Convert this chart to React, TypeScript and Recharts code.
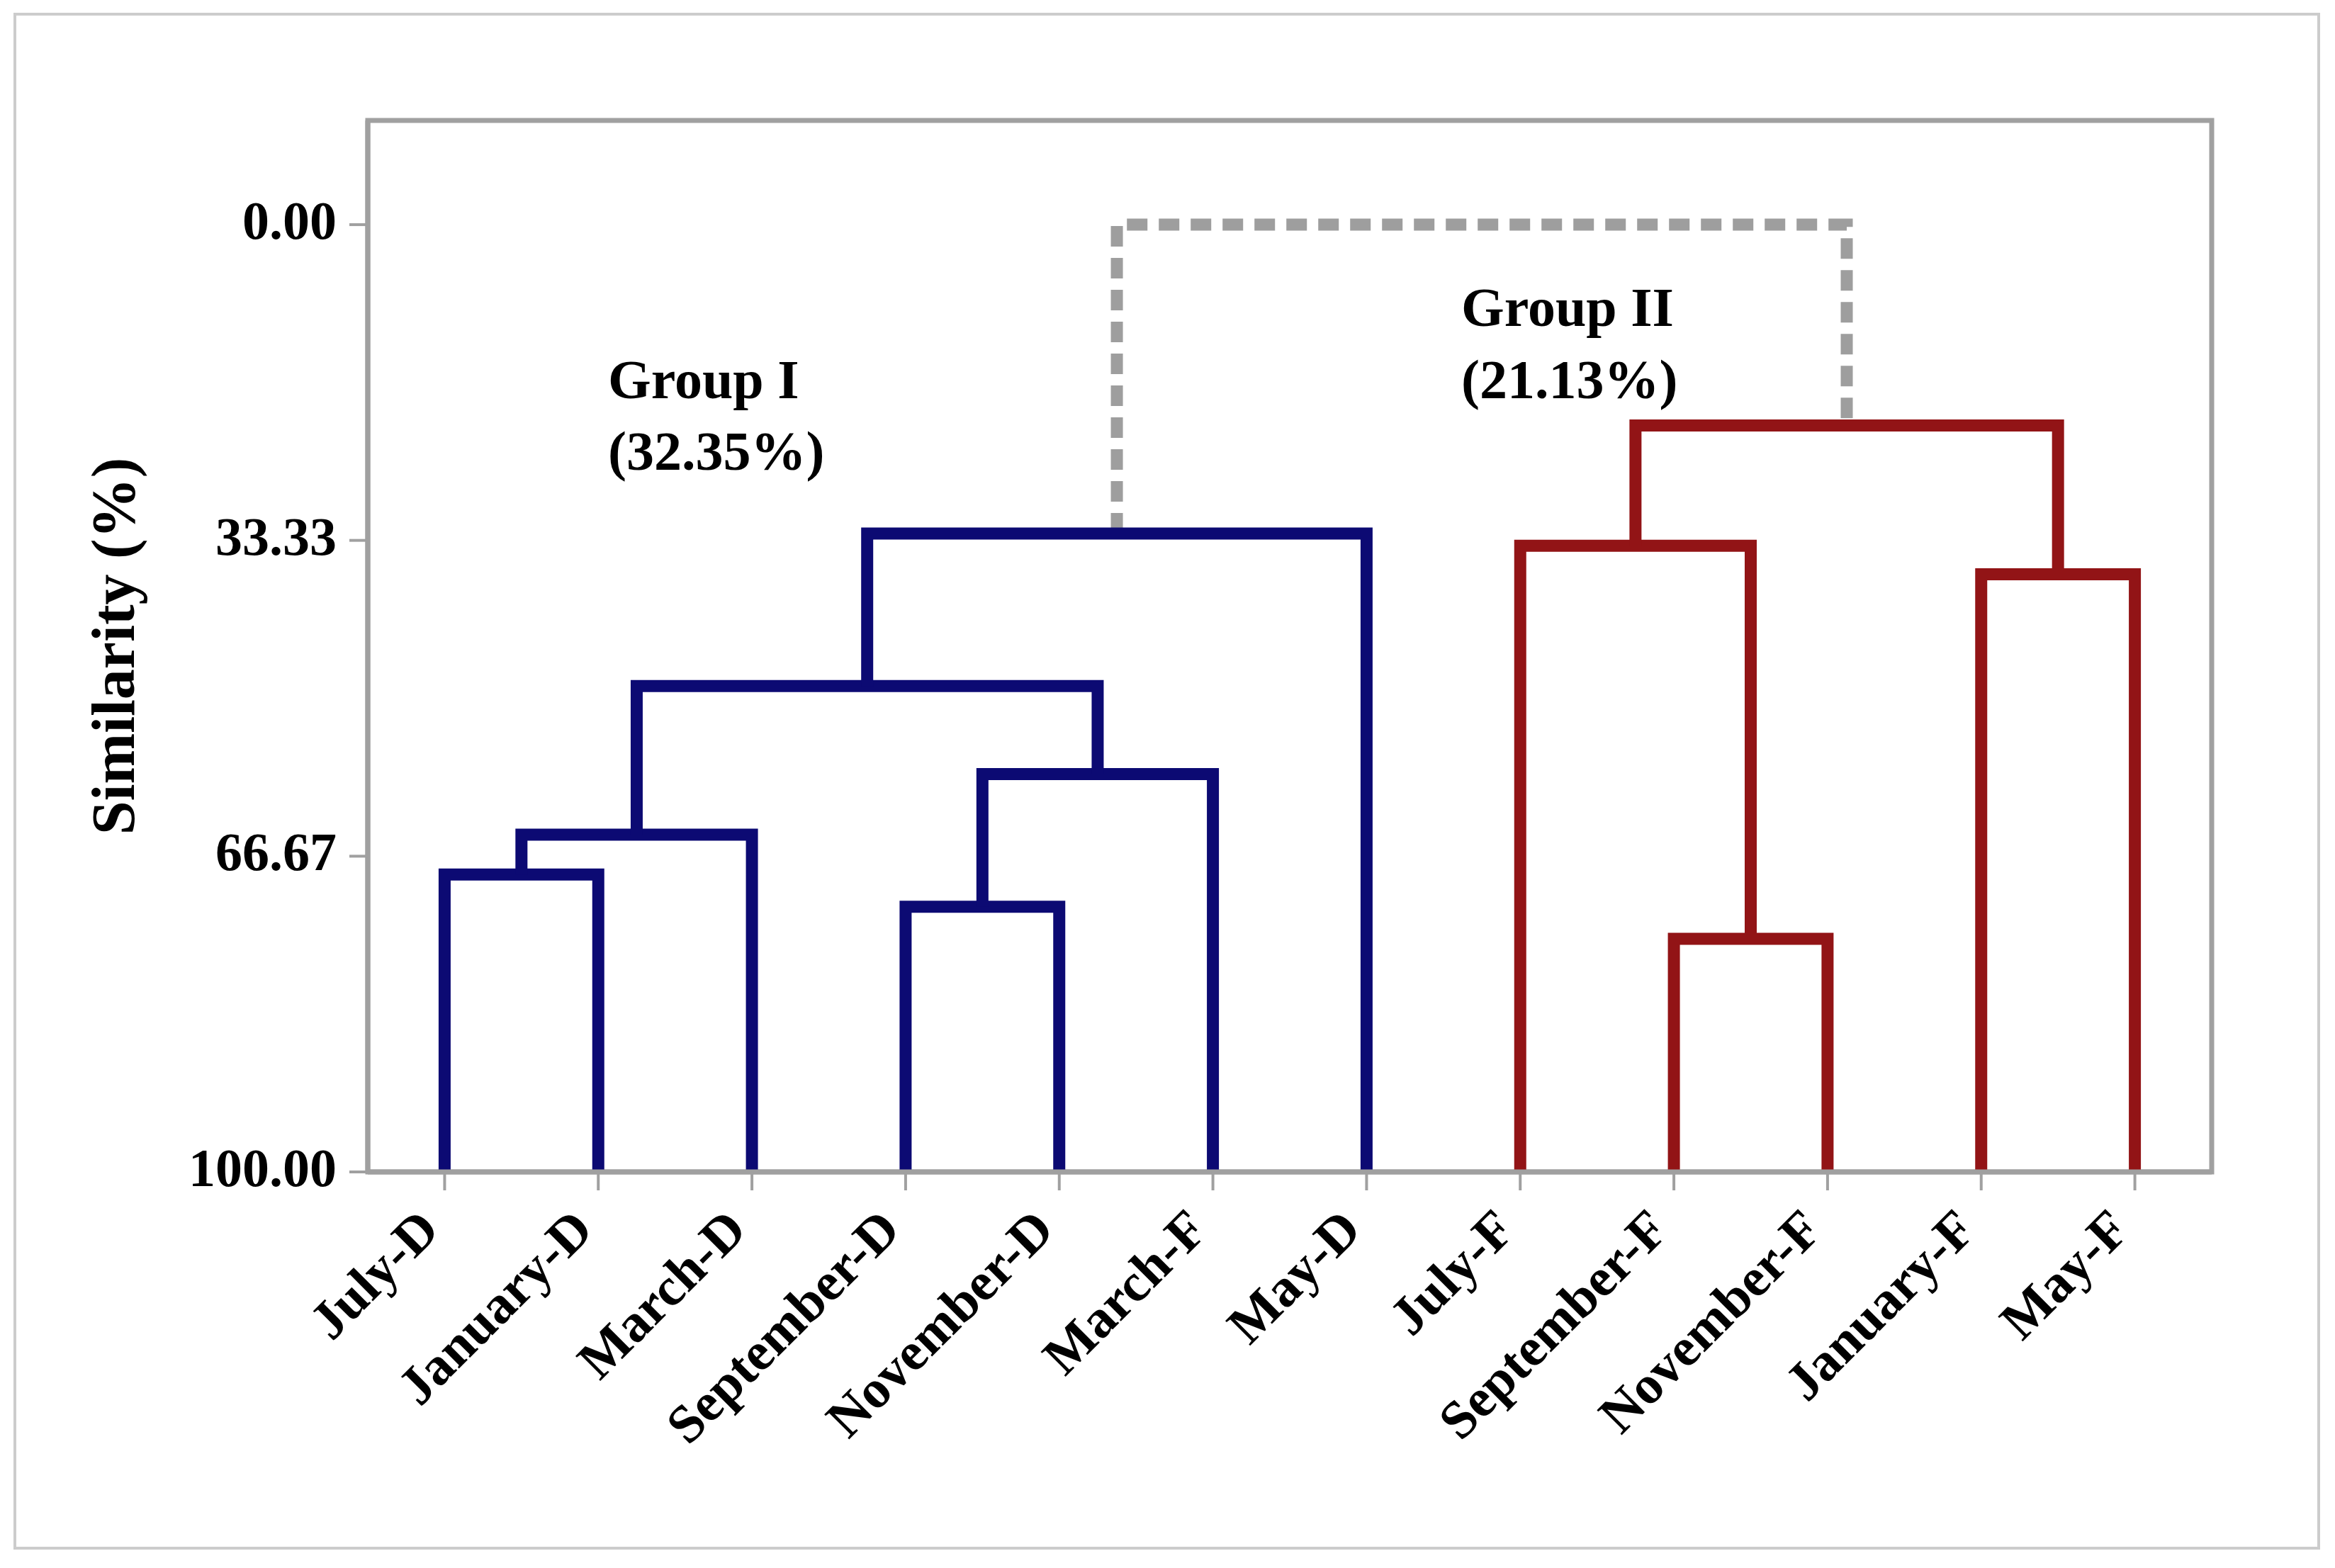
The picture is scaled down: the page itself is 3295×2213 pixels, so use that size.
import React from "react";
import { LineChart, Line, XAxis, YAxis, ReferenceArea } from "recharts";

// leaf order along the x axis
const leaves = [
  "July-D",
  "January-D",
  "March-D",
  "September-D",
  "November-D",
  "March-F",
  "May-D",
  "July-F",
  "September-F",
  "November-F",
  "January-F",
  "May-F",
];

// merges: [child a, child b, similarity %]; leaves are ids 0-11, merges get ids 12+ in order
const groupIMerges: [number, number, number][] = [
  [0, 1, 68.6], // 12
  [12, 2, 64.4], // 13
  [3, 4, 72.0], // 14
  [14, 5, 58.0], // 15
  [13, 15, 48.7], // 16
  [16, 6, 32.6], // 17
];

const groupIIMerges: [number, number, number][] = [
  [8, 9, 75.4], // 18
  [7, 18, 33.9], // 19
  [10, 11, 36.9], // 20
  [19, 20, 21.2], // 21
];

const rootMerge: [number, number, number] = [17, 21, 0];

const yTicks = [0, 33.33, 66.67, 100];
const groupTitles = ["Group I", "Group II"];
const groupShares = ["(32.35%)", "(21.13%)"];

const W = 3295;
const H = 2213;
const NAVY = "#0c0a73";
const RED = "#921416";
const GREY = "#9e9e9e";
const FRAME = "#a0a0a0";
const FONT = '"Liberation Serif", "Times New Roman", serif';

type Pt = { x: number; y: number };

function buildNodes(): Pt[] {
  const nodes: Pt[] = leaves.map((_, i) => ({ x: i, y: 100 }));
  for (const [a, b, h] of [...groupIMerges, ...groupIIMerges, rootMerge]) {
    nodes.push({ x: (nodes[a].x + nodes[b].x) / 2, y: h });
  }
  return nodes;
}

function toLinks(merges: [number, number, number][], nodes: Pt[]): Pt[][] {
  return merges.map(([a, b, h]) => [
    { x: nodes[a].x, y: nodes[a].y },
    { x: nodes[a].x, y: h },
    { x: nodes[b].x, y: h },
    { x: nodes[b].x, y: nodes[b].y },
  ]);
}

function XTick(props: any) {
  const { x, y, payload } = props;
  return (
    <g transform={`translate(${x - 4},${y + 50})`}>
      <text
        textAnchor="end"
        transform="rotate(-45)"
        fontFamily={FONT}
        fontWeight="bold"
        fontSize={76}
        fill="#000"
      >
        {leaves[payload.value]}
      </text>
    </g>
  );
}

function YTick(props: any) {
  const { x, y, payload } = props;
  return (
    <text
      x={x}
      y={y + 20}
      textAnchor="end"
      fontFamily={FONT}
      fontWeight="bold"
      fontSize={76}
      fill="#000"
    >
      {Number(payload.value).toFixed(2)}
    </text>
  );
}

export default function App() {
  const nodes = buildNodes();
  const blueLinks = toLinks(groupIMerges, nodes);
  const redLinks = toLinks(groupIIMerges, nodes);
  const rootLinks = toLinks([rootMerge], nodes);

  return (
    <div
      style={{
        position: "absolute",
        left: 0,
        top: 0,
        width: W,
        height: H,
        background: "#fff",
        overflow: "hidden",
      }}
    >
      <LineChart
        width={W}
        height={H}
        margin={{ top: 170, right: 174, left: 219, bottom: 259 }}
      >
        <XAxis
          type="number"
          dataKey="x"
          domain={[-0.5, 11.5]}
          allowDataOverflow
          ticks={leaves.map((_, i) => i)}
          interval={0}
          height={300}
          tick={<XTick />}
          tickSize={26}
          tickMargin={9}
          axisLine={{ stroke: FRAME, strokeWidth: 7 }}
          tickLine={{ stroke: FRAME, strokeWidth: 4 }}
        />
        <YAxis
          type="number"
          dataKey="y"
          reversed
          domain={[-11, 100]}
          allowDataOverflow
          ticks={yTicks}
          interval={0}
          width={300}
          tick={<YTick />}
          tickSize={26}
          tickMargin={18}
          axisLine={{ stroke: FRAME, strokeWidth: 7 }}
          tickLine={{ stroke: FRAME, strokeWidth: 4 }}
        />
        <ReferenceArea
          x1={-0.5}
          x2={11.5}
          y1={-11}
          y2={100}
          fill="none"
          fillOpacity={0}
          stroke={FRAME}
          strokeWidth={7}
          ifOverflow="visible"
        />
        {rootLinks.map((d, i) => (
          <Line
            key={`root-${i}`}
            data={d}
            dataKey="y"
            type="linear"
            stroke={GREY}
            strokeWidth={17}
            strokeDasharray="29 16"
            dot={false}
            activeDot={false}
            isAnimationActive={false}
          />
        ))}
        {blueLinks.map((d, i) => (
          <Line
            key={`blue-${i}`}
            data={d}
            dataKey="y"
            type="linear"
            stroke={NAVY}
            strokeWidth={17}
            strokeLinejoin="miter"
            dot={false}
            activeDot={false}
            isAnimationActive={false}
          />
        ))}
        {redLinks.map((d, i) => (
          <Line
            key={`red-${i}`}
            data={d}
            dataKey="y"
            type="linear"
            stroke={RED}
            strokeWidth={17}
            strokeLinejoin="miter"
            dot={false}
            activeDot={false}
            isAnimationActive={false}
          />
        ))}
      </LineChart>

      <svg
        width={W}
        height={H}
        style={{ position: "absolute", left: 0, top: 0, pointerEvents: "none" }}
      >
        <rect
          x={21}
          y={20}
          width={3251}
          height={2165}
          fill="none"
          stroke="#cccccc"
          strokeWidth={4}
        />
        <text
          transform="translate(189,912) rotate(-90)"
          textAnchor="middle"
          fontFamily={FONT}
          fontWeight="bold"
          fontSize={86}
          fill="#000"
        >
          Similarity (%)
        </text>
        <g fontFamily={FONT} fontWeight="bold" fontSize={78} fill="#000">
          <text x={858} y={562}>{groupTitles[0]}</text>
          <text x={858} y={663}>{groupShares[0]}</text>
          <text x={2062} y={460}>{groupTitles[1]}</text>
          <text x={2062} y={562}>{groupShares[1]}</text>
        </g>
      </svg>
    </div>
  );
}
